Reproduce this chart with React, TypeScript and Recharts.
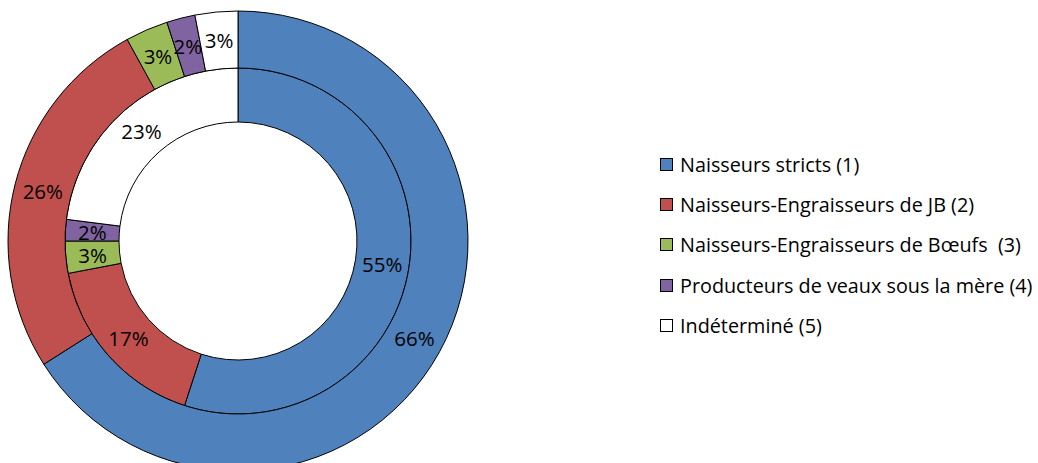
import React from 'react';
import { PieChart, Pie, Cell, Legend } from 'recharts';

const categories = [
  'Naisseurs stricts (1)',
  'Naisseurs-Engraisseurs de JB (2)',
  'Naisseurs-Engraisseurs de Bœufs  (3)',
  'Producteurs de veaux sous la mère (4)',
  'Indéterminé (5)',
];
const outerValues = [66, 26, 3, 2, 3];
const innerValues = [55, 17, 3, 2, 23];
const colors = ['#4F81BD', '#C0504D', '#9BBB59', '#8064A2', '#FFFFFF'];

const outerData = categories.map((name, i) => ({ name, value: outerValues[i] }));
const innerData = categories.map((name, i) => ({ name, value: innerValues[i] }));

const RADIAN = Math.PI / 180;
const FONT = '"Open Sans", Lato, sans-serif';

const renderLabel = (props: any) => {
  const { cx, cy, midAngle, innerRadius, outerRadius, value } = props;
  const r = (innerRadius + outerRadius) / 2;
  const x = cx + r * Math.cos(-midAngle * RADIAN);
  const y = cy + r * Math.sin(-midAngle * RADIAN);
  return (
    <text x={x} y={y} fill="#000" textAnchor="middle" dominantBaseline="central" fontSize={20.5} fontFamily={FONT}>
      {value}%
    </text>
  );
};

const renderLegend = () => (
  <div style={{ fontFamily: FONT, fontSize: 19.8, color: '#000' }}>
    {categories.map((c, i) => (
      <div key={c} style={{ display: 'flex', alignItems: 'center', height: 40.3, whiteSpace: 'pre' }}>
        <span
          style={{
            width: 11,
            height: 11,
            background: colors[i],
            border: '1px solid #000',
            marginRight: 7,
            display: 'inline-block',
            flexShrink: 0,
          }}
        />
        {c}
      </div>
    ))}
  </div>
);

export default function App() {
  return (
    <div style={{ position: 'absolute', left: 0, top: 0, background: '#fff' }}>
      <PieChart width={1038} height={463} margin={{ top: 0, right: 0, bottom: 0, left: 0 }}>
        <Pie
          data={innerData}
          dataKey="value"
          cx={238}
          cy={241}
          innerRadius={119}
          outerRadius={173}
          startAngle={90}
          endAngle={-270}
          stroke="#000"
          strokeWidth={1}
          label={renderLabel}
          labelLine={false}
          isAnimationActive={false}
        >
          {innerData.map((d, i) => (
            <Cell key={d.name} fill={colors[i]} />
          ))}
        </Pie>
        <Pie
          data={outerData}
          dataKey="value"
          cx={238}
          cy={241}
          innerRadius={173}
          outerRadius={230}
          startAngle={90}
          endAngle={-270}
          stroke="#000"
          strokeWidth={1}
          label={renderLabel}
          labelLine={false}
          isAnimationActive={false}
        >
          {outerData.map((d, i) => (
            <Cell key={d.name} fill={colors[i]} />
          ))}
        </Pie>
        <Legend
          content={renderLegend}
          layout="vertical"
          wrapperStyle={{ left: 660, top: 144, width: 378 }}
        />
      </PieChart>
    </div>
  );
}
